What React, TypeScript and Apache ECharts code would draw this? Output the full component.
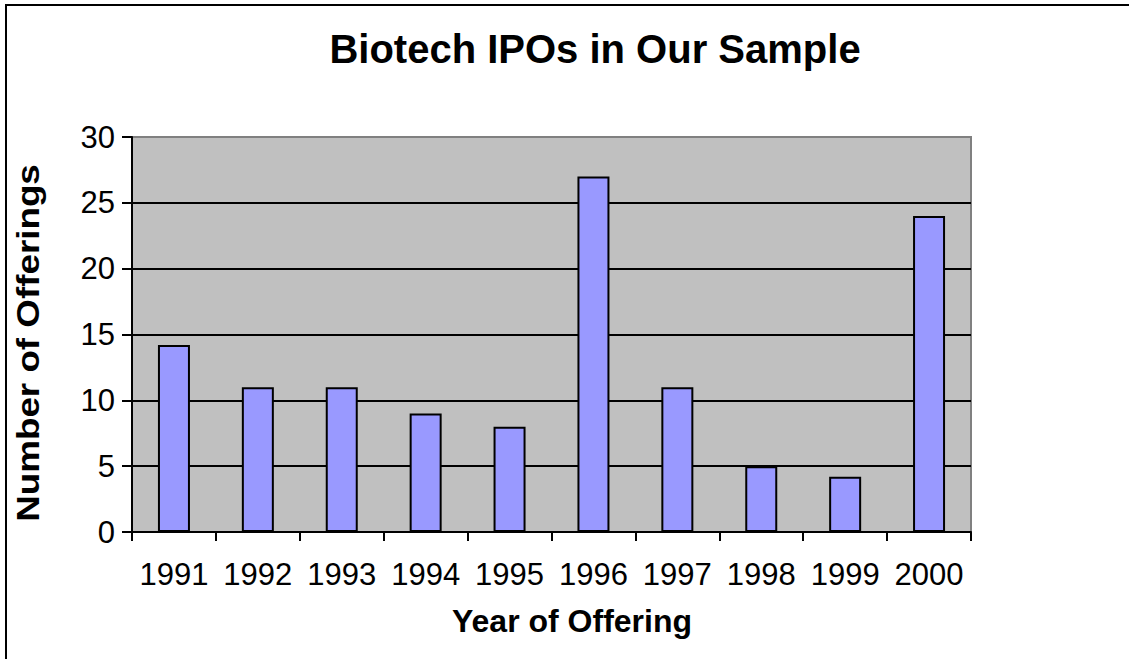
import React, { useEffect, useRef } from "react";
import * as echarts from "echarts";

const categories = ["1991", "1992", "1993", "1994", "1995", "1996", "1997", "1998", "1999", "2000"];
const offerings = [14.2, 11, 11, 9, 8, 27, 11, 5, 4.2, 24];
const titleText = "Biotech IPOs in Our Sample";
const xName = "Year of Offering";
const yName = "Number of Offerings";

const FONT = "Liberation Sans, Arial, Helvetica, sans-serif";

export default function App() {
  const ref = useRef<HTMLDivElement>(null);
  useEffect(() => {
    if (!ref.current) return;
    const chart = echarts.init(ref.current, undefined, { renderer: "svg" });
    chart.setOption({
      animation: false,
      backgroundColor: "#ffffff",
      grid: {
        left: 132,
        right: 158,
        top: 137,
        bottom: 127,
        show: true,
        backgroundColor: "#C0C0C0",
        borderColor: "#808080",
        borderWidth: 2,
      },
      xAxis: {
        type: "category",
        data: categories,
        axisLine: { lineStyle: { color: "#000", width: 2 } },
        axisTick: { show: true, interval: 0, length: 9, inside: false, lineStyle: { color: "#000", width: 2 } },
        axisLabel: {
          color: "#000",
          fontSize: 31,
          fontFamily: FONT,
          margin: 27,
          interval: 0,
          hideOverlap: false,
        },
        splitLine: { show: false },
      },
      yAxis: {
        type: "value",
        min: 0,
        max: 30,
        interval: 5,
        axisLine: { show: true, lineStyle: { color: "#000", width: 2 } },
        axisTick: { show: true, length: 10, lineStyle: { color: "#000", width: 2 } },
        axisLabel: { color: "#000", fontSize: 31, fontFamily: FONT, margin: 17 },
        splitLine: {
          show: true,
          lineStyle: {
            color: ["#000", "#000", "#000", "#000", "#000", "#000", "#808080"],
            width: 2,
          },
        },
      },
      series: [
        {
          type: "bar",
          data: offerings,
          barWidth: 32,
          itemStyle: { color: "#9999FF", borderColor: "#000", borderWidth: 2 },
        },
      ],
      graphic: [
        {
          type: "rect",
          shape: { x: 6, y: 5, width: 1200, height: 800 },
          style: { fill: "none", stroke: "#000", lineWidth: 2 },
          silent: true,
        },
        {
          type: "text",
          x: 595,
          y: 49,
          style: {
            text: titleText,
            font: `bold 40px ${FONT}`,
            fill: "#000",
            textAlign: "center",
            textVerticalAlign: "middle",
          },
        },
        {
          type: "text",
          x: 572,
          y: 621,
          style: {
            text: xName,
            font: `bold 32px ${FONT}`,
            fill: "#000",
            textAlign: "center",
            textVerticalAlign: "middle",
          },
        },
        {
          type: "text",
          x: 28,
          y: 343,
          rotation: Math.PI / 2,
          scaleX: 1.15,
          style: {
            text: yName,
            font: `bold 32px ${FONT}`,
            fill: "#000",
            textAlign: "center",
            textVerticalAlign: "middle",
          },
        },
      ],
    });
    return () => chart.dispose();
  }, []);
  return (
    <div
      ref={ref}
      style={{ position: "fixed", left: 0, top: 0, width: 1129, height: 659 }}
    />
  );
}
